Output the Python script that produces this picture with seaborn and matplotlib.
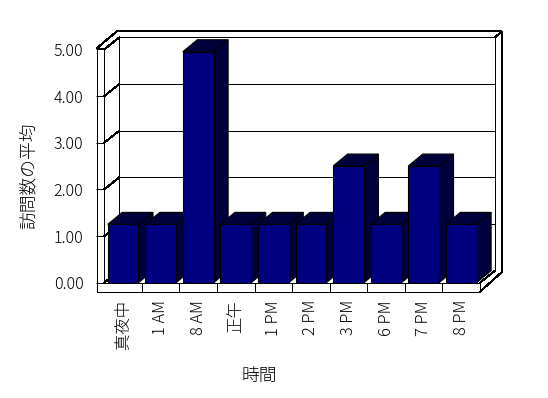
import matplotlib
matplotlib.use('Agg')
import matplotlib.pyplot as plt
import seaborn as sns
import pandas as pd
from matplotlib.lines import Line2D
from matplotlib.patches import Polygon
from matplotlib.transforms import IdentityTransform

categories = ['真夜中', '1 AM', '8 AM', '正午', '1 PM', '2 PM', '3 PM', '6 PM', '7 PM', '8 PM']
values = [1.25, 1.25, 4.95, 1.25, 1.25, 1.25, 2.5, 1.25, 2.5, 1.25]
yticks = [0, 1, 2, 3, 4, 5]
ytick_labels = ['0.00', '1.00', '2.00', '3.00', '4.00', '5.00']
xlabel = '時間'
ylabel = '訪問数の平均'

sns.set_theme(style='white')
plt.rcParams['font.family'] = ['Noto Sans CJK JP', 'DejaVu Sans']

W, H, DPI = 548, 398, 100
fig = plt.figure(figsize=(W / DPI, H / DPI), dpi=DPI)
fig.patch.set_facecolor('white')

# front plane of the 3D box (image pixel coords, top-left origin)
L, R, B, T = 104.3, 480.0, 282.7, 49.4
ax = fig.add_axes([L / W, 1 - B / H, (R - L) / W, (B - T) / H])
ax.set_facecolor('none')
ax.set_zorder(2)

df = pd.DataFrame({'time': categories, 'avg': values})
sns.barplot(data=df, x='time', y='avg', color='#000080', saturation=1,
            width=0.82, edgecolor='black', linewidth=0.8, ax=ax, zorder=5)
n = len(categories)
ax.set_xlim(-0.5, n - 0.5)
ax.set_ylim(0, 5)
for s in ax.spines.values():
    s.set_visible(False)
ax.grid(False)
ax.set_xlabel('')
ax.set_ylabel('')

ax.set_yticks(yticks, ytick_labels)
ax.tick_params(axis='y', length=7.6 * 0.72, width=0.72, color='black',
               pad=9.5, labelsize=11.5, labelcolor='black', left=True)
ax.set_xticks(range(n), categories, rotation=90)
ax.tick_params(axis='x', length=0, pad=12.5, labelsize=11.8, labelcolor='black')
for lab in ax.get_xticklabels() + ax.get_yticklabels():
    lab.set_fontweight('light')

# 3D box decoration (walls, floor)
DXw, DYw = 15.0, 12.0
SL = 7.6      # left slab thickness
FT = 9.0      # floor slab thickness
unit = (B - T) / 5.0
slot = (R - L) / n

def line(pts, lw=1.0, z=0.5):
    xs = [p[0] for p in pts]
    ys = [H - p[1] for p in pts]
    fig.add_artist(Line2D(xs, ys, transform=IdentityTransform(), color='black',
                          linewidth=lw * 0.72, antialiased=False, zorder=z))

# back wall face
line([(L + DXw, B - DYw), (L + DXw, T - DYw), (R + DXw, T - DYw), (R + DXw, B - DYw)])
for v in yticks[1:-1]:
    line([(L + DXw, B - DYw - v * unit), (R + DXw, B - DYw - v * unit)])
# left wall diagonals
for v in yticks:
    line([(L, B - v * unit), (L + DXw, B - DYw - v * unit)])
# left wall front slab
line([(L - SL, B + FT), (L - SL, T - 1), (L, T - 1), (L, B)])
# outer top of box
line([(L - SL, T - 1), (L + DXw - 2.6, T - DYw - 6), (R + DXw + 6.7, T - DYw - 6),
      (R + DXw + 6.7, B - DYw + 1.5)])
line([(R + DXw, T - DYw), (R + DXw + 6.7, T - DYw - 6)])
# floor
line([(L, B), (R, B)], z=3)
line([(L - SL, B + FT), (R, B + FT), (R, B)], z=3)
for k in range(1, n):
    line([(L + k * slot, B), (L + k * slot, B + FT)], z=3)
line([(R, B), (R + DXw, B - DYw)])
line([(R, B + FT), (R + DXw + 6.7, B - DYw + 1.5)], z=3)

# 3D faces of bars
bdx = 14.5 / (R - L) * n
bdy = 12.0 / (B - T) * 5
for p in list(ax.patches):
    x0, w, h = p.get_x(), p.get_width(), p.get_height()
    side = [(x0 + w, 0), (x0 + w, h), (x0 + w + bdx, h + bdy), (x0 + w + bdx, bdy)]
    top = [(x0, h), (x0 + w, h), (x0 + w + bdx, h + bdy), (x0 + bdx, h + bdy)]
    for poly in (side, top):
        ax.add_patch(Polygon(poly, closed=True, facecolor='#00003c', edgecolor='black',
                             linewidth=0.8, clip_on=False, zorder=4))

fig.text(29 / W, 1 - 175.5 / H, ylabel, rotation=90, ha='center', va='center',
         fontsize=12.8, color='black', fontweight='light')
fig.text(259 / W, 1 - 376 / H, xlabel, ha='center', va='center',
         fontsize=12.8, color='black', fontweight='light')

fig.savefig('out.png', dpi=DPI, facecolor='white')
